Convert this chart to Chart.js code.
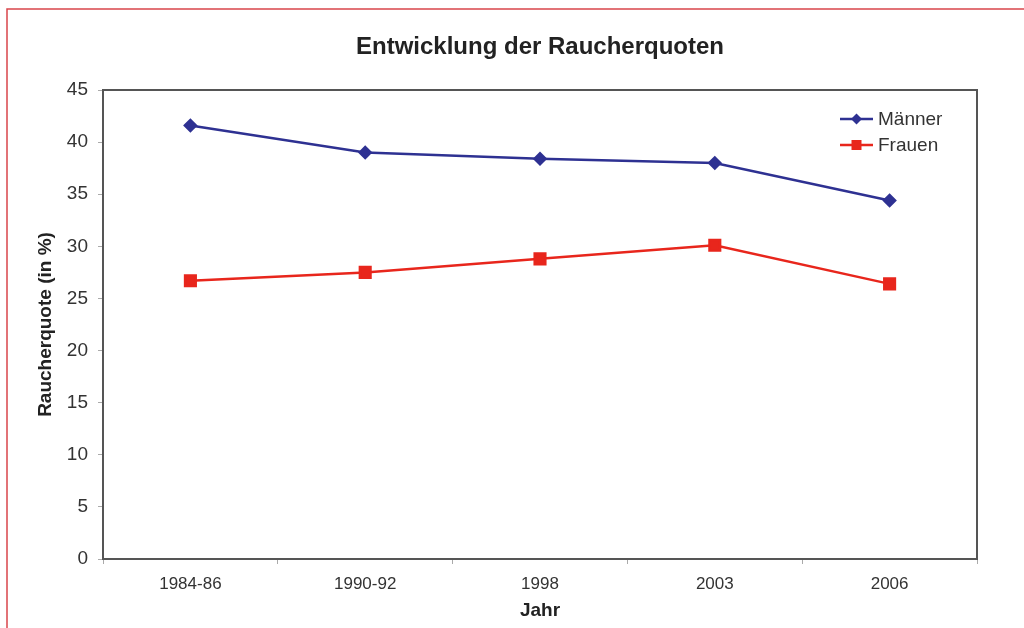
<!DOCTYPE html>
<html>
<head>
<meta charset="utf-8">
<script src="https://cdn.jsdelivr.net/npm/chart.js@4"></script>
<style>
  html, body { margin: 0; padding: 0; background: #fff; }
  #wrap { width: 1024px; height: 628px; position: relative; }
</style>
</head>
<body>
<div id="wrap"><canvas id="smokeChart" width="1024" height="628"></canvas></div>
<script>
const years = ["1984-86", "1990-92", "1998", "2003", "2006"]
const men = [41.6, 39.0, 38.4, 38.0, 34.4]
const women = [26.7, 27.5, 28.8, 30.1, 26.4]
const yTicks = [0, 5, 10, 15, 20, 25, 30, 35, 40, 45]

const BLUE = "#2e3192"
const RED = "#e8261c"
const AXIS = "#555555"
const FONT = "'Liberation Sans', Arial, sans-serif"

// frame around the figure and box around the plot
const framePlugin = {
  id: "frame",
  beforeDraw(chart) {
    const ctx = chart.ctx
    ctx.save()
    ctx.strokeStyle = "#d9464b"
    ctx.lineWidth = 1.5
    ctx.beginPath()
    ctx.moveTo(7, 628)
    ctx.lineTo(7, 9)
    ctx.lineTo(1024, 9)
    ctx.stroke()
    ctx.restore()
  },
  afterDatasetsDraw(chart) {
    const { ctx, chartArea: a } = chart
    ctx.save()
    ctx.strokeStyle = AXIS
    ctx.lineWidth = 2
    ctx.strokeRect(a.left, a.top, a.right - a.left, a.bottom - a.top)
    ctx.restore()
  }
}

// legend with line + marker, placed inside the plot at top right
const insideLegend = {
  id: "insideLegend",
  afterDraw(chart) {
    const ctx = chart.ctx
    const x0 = 840, x1 = 873, tx = 878
    let y = 119
    chart.data.datasets.forEach(ds => {
      ctx.save()
      ctx.strokeStyle = ds.borderColor
      ctx.lineWidth = 2.5
      ctx.beginPath()
      ctx.moveTo(x0, y)
      ctx.lineTo(x1, y)
      ctx.stroke()
      ctx.fillStyle = ds.pointBackgroundColor
      ctx.beginPath()
      const cx = (x0 + x1) / 2
      if (ds.pointStyle === "rectRot") {
        ctx.moveTo(cx, y - 5.5); ctx.lineTo(cx + 5.5, y); ctx.lineTo(cx, y + 5.5); ctx.lineTo(cx - 5.5, y)
        ctx.closePath()
      } else {
        ctx.rect(cx - 5, y - 5, 10, 10)
      }
      ctx.fill()
      ctx.fillStyle = "#333"
      ctx.font = "19px " + FONT
      ctx.textBaseline = "middle"
      ctx.fillText(ds.label, tx, y + 1)
      ctx.restore()
      y += 26
    })
  }
}

new Chart(document.getElementById("smokeChart"), {
  type: "line",
  data: {
    labels: years,
    datasets: [
      {
        label: "Männer",
        data: men,
        borderColor: BLUE,
        backgroundColor: BLUE,
        pointBackgroundColor: BLUE,
        pointBorderColor: BLUE,
        pointStyle: "rectRot",
        pointRadius: 5.5,
        borderWidth: 2.5,
        tension: 0
      },
      {
        label: "Frauen",
        data: women,
        borderColor: RED,
        backgroundColor: RED,
        pointBackgroundColor: RED,
        pointBorderColor: RED,
        pointStyle: "rect",
        pointRadius: 7.5,
        borderWidth: 2.5,
        tension: 0
      }
    ]
  },
  options: {
    responsive: false,
    animation: false,
    layout: { padding: { left: 0, right: 47, top: 0, bottom: 0 } },
    plugins: {
      legend: { display: false },
      tooltip: { enabled: false },
      title: {
        display: true,
        fullSize: false,
        text: "Entwicklung der Raucherquoten",
        color: "#222",
        font: { family: FONT, size: 24, weight: "bold", lineHeight: 1.2 },
        padding: { top: 33, bottom: 28.2 }
      }
    },
    scales: {
      x: {
        offset: true,
        afterFit: s => { s.height = 69 },
        grid: { offset: true, drawOnChartArea: false, tickLength: 5, color: "#aaa" },
        border: { display: false },
        ticks: { color: "#333", font: { family: FONT, size: 17 }, padding: 10 },
        title: {
          display: true,
          text: "Jahr",
          color: "#222",
          font: { family: FONT, size: 19, weight: "bold", lineHeight: 1.2 },
          padding: { top: 0, bottom: 6 }
        }
      },
      y: {
        min: 0,
        max: 45,
        afterFit: s => { s.width = 103 },
        afterBuildTicks: s => { s.ticks = yTicks.map(v => ({ value: v })) },
        grid: { drawOnChartArea: false, tickLength: 5, color: "#aaa" },
        border: { display: false },
        ticks: { color: "#333", font: { family: FONT, size: 19 }, padding: 10 },
        title: {
          display: true,
          text: "Raucherquote (in %)",
          color: "#222",
          font: { family: FONT, size: 19, weight: "bold", lineHeight: 1.2 },
          padding: { top: 34, bottom: 0 }
        }
      }
    }
  },
  plugins: [framePlugin, insideLegend]
})
</script>
</body>
</html>
